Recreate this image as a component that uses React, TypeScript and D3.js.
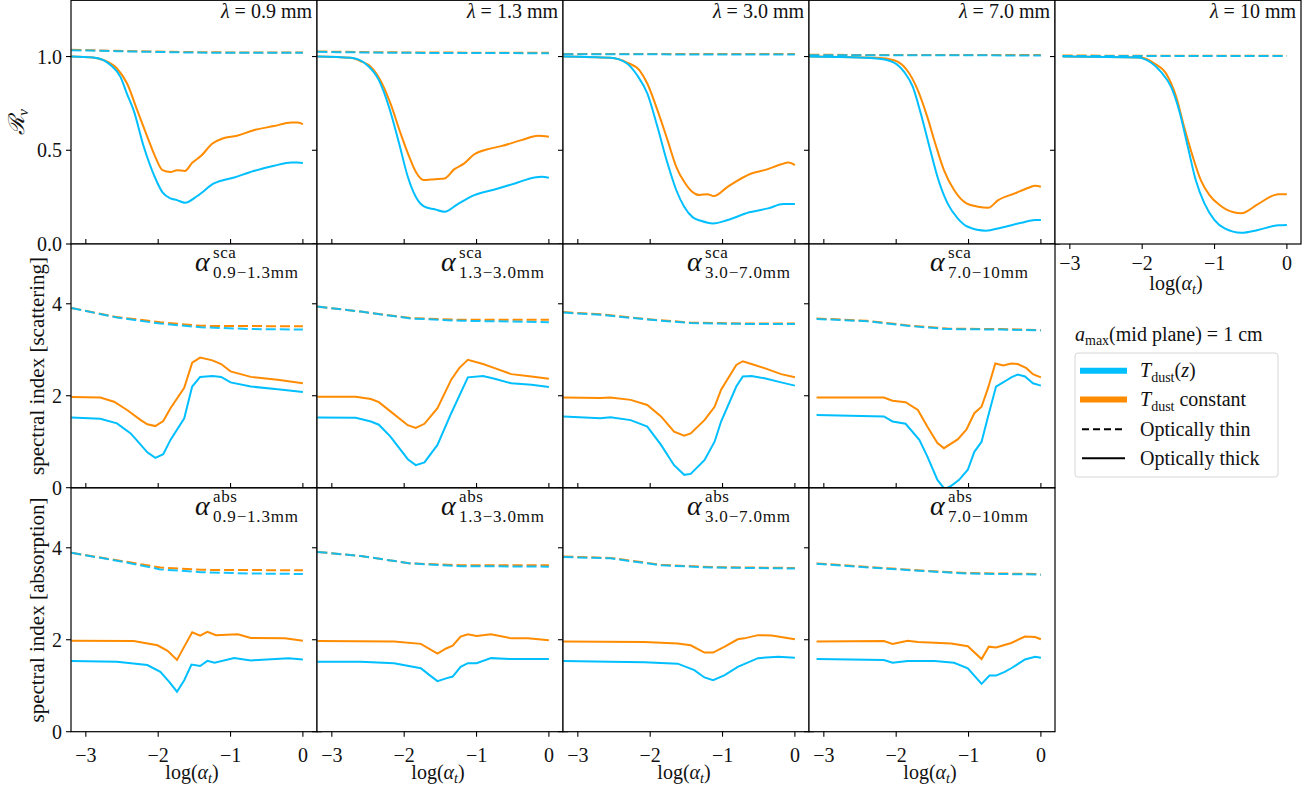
import React from 'react';
import * as d3 from 'd3';

type Pt = [number, number];

// ---------- tick labels / categories ----------
const X_TICKS = [-3, -2, -1, 0];
const X_TICK_LABELS = ['\u22123', '\u22122', '\u22121', '0'];
const R_TICKS = [0, 0.5, 1.0];
const R_TICK_LABELS = ['0.0', '0.5', '1.0'];
const IDX_TICKS = [0, 2, 4];
const IDX_TICK_LABELS = ['0', '2', '4'];
const WAVELENGTHS = ['0.9', '1.3', '3.0', '7.0', '10'];
const BANDS = ['0.9\u22121.3mm', '1.3\u22123.0mm', '3.0\u22127.0mm', '7.0\u221210mm'];
const LEGEND_LABELS = ['Tdust(z)', 'Tdust constant', 'Optically thin', 'Optically thick'];

// ---------- Row 0 : R_nu ----------
const R09_TZ: Pt[] = [[-3.2,1.0],[-2.9,0.995],[-2.75,0.98],[-2.66,0.955],[-2.52,0.89],[-2.43,0.8],[-2.34,0.714],[-2.2,0.52],[-2.05,0.36],[-1.94,0.275],[-1.83,0.243],[-1.74,0.234],[-1.63,0.22],[-1.46,0.256],[-1.23,0.323],[-0.95,0.355],[-0.68,0.389],[-0.4,0.417],[-0.16,0.435],[-0.07,0.435],[0,0.432]];
const R09_TC: Pt[] = [[-3.2,1.0],[-2.9,0.995],[-2.75,0.98],[-2.57,0.936],[-2.43,0.856],[-2.29,0.714],[-2.15,0.572],[-2.04,0.465],[-1.94,0.394],[-1.83,0.384],[-1.74,0.394],[-1.63,0.39],[-1.53,0.433],[-1.41,0.469],[-1.25,0.536],[-1.11,0.563],[-0.91,0.577],[-0.68,0.607],[-0.4,0.629],[-0.16,0.648],[-0.07,0.648],[0,0.639]];
const R09_TZ_THIN: Pt[] = [[-3.2,1.034],[-2.5,1.028],[-1.8,1.023],[-1.0,1.02],[0,1.02]];
const R09_TC_THIN: Pt[] = [[-3.2,1.036],[-2.5,1.03],[-1.8,1.025],[-1.0,1.022],[0,1.021]];

const R13_TZ: Pt[] = [[-3.2,1.0],[-2.74,0.993],[-2.51,0.954],[-2.35,0.874],[-2.21,0.731],[-2.07,0.536],[-1.95,0.359],[-1.84,0.252],[-1.72,0.199],[-1.58,0.185],[-1.44,0.172],[-1.26,0.213],[-1.03,0.261],[-0.75,0.291],[-0.47,0.323],[-0.2,0.355],[-0.1,0.359],[0,0.353]];
const R13_TC: Pt[] = [[-3.2,1.0],[-2.74,0.993],[-2.6,0.975],[-2.46,0.945],[-2.33,0.874],[-2.19,0.75],[-2.05,0.59],[-1.93,0.465],[-1.84,0.385],[-1.73,0.341],[-1.58,0.346],[-1.44,0.35],[-1.31,0.398],[-1.17,0.43],[-1.03,0.479],[-0.84,0.506],[-0.66,0.522],[-0.38,0.554],[-0.15,0.577],[0,0.572]];
const R13_TZ_THIN: Pt[] = [[-3.2,1.025],[-2.0,1.02],[0,1.018]];
const R13_TC_THIN: Pt[] = [[-3.2,1.027],[-2.0,1.022],[0,1.02]];

const R30_TZ: Pt[] = [[-3.2,1.0],[-2.55,0.993],[-2.32,0.963],[-2.18,0.9],[-2.04,0.803],[-1.9,0.625],[-1.76,0.43],[-1.64,0.288],[-1.53,0.199],[-1.41,0.142],[-1.3,0.124],[-1.13,0.11],[-0.93,0.128],[-0.63,0.169],[-0.37,0.19],[-0.16,0.213],[0,0.213]];
const R30_TC: Pt[] = [[-3.2,1.0],[-2.55,0.993],[-2.32,0.968],[-2.15,0.927],[-2.04,0.856],[-1.9,0.714],[-1.76,0.554],[-1.64,0.412],[-1.53,0.332],[-1.42,0.279],[-1.32,0.261],[-1.21,0.266],[-1.12,0.256],[-0.93,0.305],[-0.6,0.376],[-0.42,0.394],[-0.19,0.425],[-0.09,0.435],[0,0.421]];
const R30_TZ_THIN: Pt[] = [[-3.2,1.012],[0,1.011]];
const R30_TC_THIN: Pt[] = [[-3.2,1.014],[0,1.013]];

const R70_TZ: Pt[] = [[-3.2,1.0],[-2.27,0.99],[-2.03,0.968],[-1.89,0.918],[-1.77,0.838],[-1.66,0.696],[-1.54,0.518],[-1.43,0.359],[-1.29,0.217],[-1.15,0.137],[-1.01,0.092],[-0.76,0.071],[-0.55,0.087],[-0.27,0.113],[-0.08,0.128],[0,0.128]];
const R70_TC: Pt[] = [[-3.2,1.0],[-2.27,0.993],[-2.03,0.98],[-1.85,0.927],[-1.71,0.829],[-1.57,0.678],[-1.46,0.536],[-1.34,0.394],[-1.2,0.288],[-1.03,0.217],[-0.87,0.199],[-0.73,0.193],[-0.59,0.234],[-0.36,0.27],[-0.17,0.3],[-0.08,0.311],[0,0.305]];
const R70_TZ_THIN: Pt[] = [[-3.2,1.007],[0,1.006]];
const R70_TC_THIN: Pt[] = [[-3.2,1.009],[0,1.008]];

const R10_TZ: Pt[] = [[-3.1,1.0],[-2.07,0.995],[-1.88,0.968],[-1.74,0.918],[-1.6,0.838],[-1.49,0.714],[-1.37,0.52],[-1.26,0.341],[-1.14,0.217],[-1.0,0.128],[-0.86,0.083],[-0.63,0.06],[-0.4,0.075],[-0.12,0.1],[0,0.102]];
const R10_TC: Pt[] = [[-3.1,1.0],[-2.02,0.995],[-1.83,0.963],[-1.67,0.91],[-1.53,0.785],[-1.42,0.625],[-1.3,0.465],[-1.19,0.341],[-1.07,0.261],[-0.93,0.208],[-0.84,0.185],[-0.63,0.164],[-0.4,0.213],[-0.12,0.266],[0,0.266]];
const R10_TZ_THIN: Pt[] = [[-3.1,1.003],[0,1.003]];
const R10_TC_THIN: Pt[] = [[-3.1,1.005],[0,1.004]];

// ---------- Row 1 : scattering spectral index ----------
const S0913_TZ: Pt[] = [[-3.2,1.525],[-2.8,1.5],[-2.57,1.4],[-2.38,1.18],[-2.24,0.93],[-2.15,0.77],[-2.04,0.65],[-1.93,0.73],[-1.83,1.04],[-1.64,1.51],[-1.53,2.2],[-1.42,2.41],[-1.25,2.43],[-1.13,2.41],[-1.0,2.29],[-0.72,2.2],[-0.35,2.14],[0,2.08]];
const S0913_TC: Pt[] = [[-3.2,1.97],[-2.8,1.96],[-2.61,1.87],[-2.43,1.69],[-2.24,1.47],[-2.15,1.38],[-2.04,1.34],[-1.93,1.45],[-1.83,1.73],[-1.64,2.17],[-1.53,2.72],[-1.42,2.83],[-1.25,2.77],[-1.13,2.69],[-1.0,2.53],[-0.72,2.41],[-0.35,2.35],[0,2.27]];
const S0913_TZ_THIN: Pt[] = [[-3.2,3.91],[-2.57,3.7],[-1.97,3.57],[-1.41,3.49],[-0.7,3.45],[0,3.44]];
const S0913_TC_THIN: Pt[] = [[-3.2,3.91],[-2.57,3.71],[-1.97,3.6],[-1.41,3.52],[0,3.51]];

const S1330_TZ: Pt[] = [[-3.2,1.525],[-2.67,1.52],[-2.46,1.44],[-2.35,1.37],[-2.19,1.11],[-1.95,0.62],[-1.84,0.49],[-1.72,0.55],[-1.54,0.93],[-1.35,1.62],[-1.12,2.4],[-0.91,2.43],[-0.75,2.37],[-0.52,2.27],[-0.24,2.24],[0,2.19]];
const S1330_TC: Pt[] = [[-3.2,1.98],[-2.67,1.98],[-2.46,1.93],[-2.35,1.86],[-2.19,1.66],[-1.95,1.36],[-1.84,1.3],[-1.72,1.39],[-1.54,1.73],[-1.35,2.35],[-1.24,2.6],[-1.12,2.78],[-0.91,2.69],[-0.75,2.6],[-0.52,2.47],[-0.24,2.42],[0,2.37]];
const S1330_TZ_THIN: Pt[] = [[-3.2,3.94],[-2.6,3.83],[-1.91,3.68],[-1.21,3.63],[0,3.6]];
const S1330_TC_THIN: Pt[] = [[-3.2,3.94],[-2.6,3.83],[-1.91,3.69],[-1.21,3.65],[0,3.65]];

const S3070_TZ: Pt[] = [[-3.2,1.55],[-2.69,1.51],[-2.55,1.53],[-2.27,1.47],[-2.04,1.33],[-1.85,0.93],[-1.67,0.49],[-1.53,0.28],[-1.44,0.3],[-1.25,0.6],[-1.11,1.0],[-1.02,1.44],[-0.81,2.2],[-0.72,2.42],[-0.6,2.43],[-0.42,2.38],[-0.19,2.29],[0,2.22]];
const S3070_TC: Pt[] = [[-3.2,1.96],[-2.69,1.95],[-2.55,1.96],[-2.27,1.91],[-2.04,1.8],[-1.85,1.55],[-1.67,1.22],[-1.53,1.13],[-1.44,1.18],[-1.25,1.47],[-1.11,1.76],[-1.02,2.13],[-0.81,2.67],[-0.72,2.75],[-0.6,2.69],[-0.42,2.6],[-0.19,2.47],[0,2.4]];
const S3070_TZ_THIN: Pt[] = [[-3.2,3.81],[-2.69,3.76],[-1.99,3.65],[-1.44,3.58],[-0.6,3.56],[0,3.56]];
const S3070_TC_THIN: Pt[] = [[-3.2,3.82],[-2.69,3.77],[-1.99,3.66],[-1.44,3.59],[-0.6,3.57],[0,3.57]];

const S7010_TZ: Pt[] = [[-3.1,1.58],[-2.17,1.55],[-2.05,1.44],[-1.87,1.39],[-1.68,1.04],[-1.57,0.68],[-1.43,0.17],[-1.33,-0.03],[-1.24,0.04],[-1.13,0.17],[-1.01,0.39],[-0.92,0.78],[-0.82,1.0],[-0.73,1.55],[-0.62,2.2],[-0.5,2.31],[-0.41,2.4],[-0.32,2.46],[-0.22,2.42],[-0.11,2.27],[0,2.22]];
const S7010_TC: Pt[] = [[-3.1,1.96],[-2.17,1.96],[-2.05,1.89],[-1.87,1.86],[-1.7,1.69],[-1.57,1.33],[-1.43,0.97],[-1.34,0.86],[-1.15,1.05],[-1.03,1.26],[-0.92,1.62],[-0.82,1.76],[-0.73,2.17],[-0.63,2.7],[-0.52,2.66],[-0.41,2.7],[-0.32,2.69],[-0.2,2.6],[-0.11,2.47],[0,2.4]];
const S7010_TZ_THIN: Pt[] = [[-3.1,3.67],[-2.4,3.62],[-1.84,3.52],[-1.29,3.45],[-0.55,3.44],[0,3.42]];
const S7010_TC_THIN: Pt[] = [[-3.1,3.68],[-2.4,3.63],[-1.84,3.53],[-1.29,3.46],[-0.55,3.45],[0,3.43]];

// ---------- Row 2 : absorption spectral index ----------
const A0913_TZ: Pt[] = [[-3.2,1.54],[-2.57,1.52],[-2.15,1.45],[-1.97,1.3],[-1.85,1.09],[-1.74,0.87],[-1.64,1.12],[-1.54,1.46],[-1.42,1.43],[-1.32,1.54],[-1.22,1.5],[-0.95,1.6],[-0.72,1.55],[-0.2,1.6],[0,1.57]];
const A0913_TC: Pt[] = [[-3.2,1.98],[-2.34,1.97],[-2.01,1.88],[-1.87,1.76],[-1.74,1.56],[-1.64,1.85],[-1.53,2.16],[-1.42,2.09],[-1.32,2.17],[-1.2,2.1],[-0.9,2.12],[-0.72,2.04],[-0.25,2.03],[0,1.98]];
const A0913_TZ_THIN: Pt[] = [[-3.2,3.89],[-2.57,3.72],[-1.97,3.53],[-1.41,3.47],[-0.7,3.44],[0,3.43]];
const A0913_TC_THIN: Pt[] = [[-3.2,3.89],[-2.57,3.73],[-1.97,3.57],[-1.41,3.52],[0,3.51]];

const A1330_TZ: Pt[] = [[-3.2,1.52],[-2.6,1.52],[-2.14,1.49],[-1.77,1.38],[-1.65,1.23],[-1.54,1.1],[-1.42,1.16],[-1.33,1.2],[-1.22,1.41],[-1.12,1.49],[-1.0,1.49],[-0.8,1.6],[-0.52,1.58],[-0.29,1.58],[0,1.58]];
const A1330_TC: Pt[] = [[-3.2,1.97],[-2.14,1.96],[-1.77,1.91],[-1.54,1.7],[-1.42,1.81],[-1.33,1.87],[-1.22,2.07],[-1.12,2.12],[-1.0,2.08],[-0.8,2.12],[-0.52,2.03],[-0.29,2.03],[0,1.99]];
const A1330_TZ_THIN: Pt[] = [[-3.2,3.91],[-2.6,3.82],[-1.91,3.66],[-1.21,3.6],[0,3.59]];
const A1330_TC_THIN: Pt[] = [[-3.2,3.91],[-2.6,3.82],[-1.91,3.66],[-1.21,3.62],[0,3.62]];

const A3070_TZ: Pt[] = [[-3.2,1.54],[-2.55,1.52],[-2.08,1.51],[-1.62,1.48],[-1.39,1.34],[-1.25,1.18],[-1.13,1.12],[-0.97,1.23],[-0.79,1.41],[-0.51,1.6],[-0.23,1.63],[0,1.61]];
const A3070_TC: Pt[] = [[-3.2,1.96],[-2.08,1.95],[-1.62,1.92],[-1.44,1.88],[-1.25,1.72],[-1.13,1.72],[-0.97,1.85],[-0.79,2.01],[-0.7,2.03],[-0.51,2.1],[-0.32,2.09],[0,2.01]];
const A3070_TZ_THIN: Pt[] = [[-3.2,3.8],[-2.55,3.77],[-1.85,3.62],[-1.16,3.57],[0,3.55]];
const A3070_TC_THIN: Pt[] = [[-3.2,3.81],[-2.55,3.78],[-1.85,3.63],[-1.16,3.58],[0,3.56]];

const A7010_TZ: Pt[] = [[-3.1,1.58],[-2.17,1.56],[-2.05,1.5],[-1.84,1.54],[-1.47,1.54],[-1.2,1.5],[-1.01,1.38],[-0.82,1.04],[-0.71,1.22],[-0.62,1.22],[-0.5,1.3],[-0.41,1.38],[-0.22,1.57],[-0.08,1.63],[0,1.61]];
const A7010_TC: Pt[] = [[-3.1,1.96],[-2.17,1.97],[-2.05,1.91],[-1.84,1.98],[-1.7,1.95],[-1.24,1.92],[-1.01,1.86],[-0.82,1.58],[-0.72,1.85],[-0.62,1.83],[-0.41,1.93],[-0.22,2.07],[-0.08,2.06],[0,2.01]];
const A7010_TZ_THIN: Pt[] = [[-3.1,3.65],[-2.17,3.55],[-1.7,3.5],[-1.01,3.44],[-0.08,3.42],[0,3.41]];
const A7010_TC_THIN: Pt[] = [[-3.1,3.66],[-2.17,3.56],[-1.7,3.51],[-1.01,3.45],[-0.08,3.43],[0,3.42]];

// ---------- layout ----------
const W = 1313;
const H = 791;
const LEFT = 71;
const PW = 246;
const ROW_TOP = [0.3, 244, 488];
const PH = 243.7;
const X_DOMAIN: [number, number] = [-3.205, 0.195];
const BLUE = '#00bfff';
const ORANGE = '#ff8c00';
const FONT = "'Liberation Serif', 'DejaVu Serif', serif";

interface Panel {
  row: number; col: number;
  tz: Pt[]; tc: Pt[]; tzThin: Pt[]; tcThin: Pt[];
}

const PANELS: Panel[] = [
  { row: 0, col: 0, tz: R09_TZ, tc: R09_TC, tzThin: R09_TZ_THIN, tcThin: R09_TC_THIN },
  { row: 0, col: 1, tz: R13_TZ, tc: R13_TC, tzThin: R13_TZ_THIN, tcThin: R13_TC_THIN },
  { row: 0, col: 2, tz: R30_TZ, tc: R30_TC, tzThin: R30_TZ_THIN, tcThin: R30_TC_THIN },
  { row: 0, col: 3, tz: R70_TZ, tc: R70_TC, tzThin: R70_TZ_THIN, tcThin: R70_TC_THIN },
  { row: 0, col: 4, tz: R10_TZ, tc: R10_TC, tzThin: R10_TZ_THIN, tcThin: R10_TC_THIN },
  { row: 1, col: 0, tz: S0913_TZ, tc: S0913_TC, tzThin: S0913_TZ_THIN, tcThin: S0913_TC_THIN },
  { row: 1, col: 1, tz: S1330_TZ, tc: S1330_TC, tzThin: S1330_TZ_THIN, tcThin: S1330_TC_THIN },
  { row: 1, col: 2, tz: S3070_TZ, tc: S3070_TC, tzThin: S3070_TZ_THIN, tcThin: S3070_TC_THIN },
  { row: 1, col: 3, tz: S7010_TZ, tc: S7010_TC, tzThin: S7010_TZ_THIN, tcThin: S7010_TC_THIN },
  { row: 2, col: 0, tz: A0913_TZ, tc: A0913_TC, tzThin: A0913_TZ_THIN, tcThin: A0913_TC_THIN },
  { row: 2, col: 1, tz: A1330_TZ, tc: A1330_TC, tzThin: A1330_TZ_THIN, tcThin: A1330_TC_THIN },
  { row: 2, col: 2, tz: A3070_TZ, tc: A3070_TC, tzThin: A3070_TZ_THIN, tcThin: A3070_TC_THIN },
  { row: 2, col: 3, tz: A7010_TZ, tc: A7010_TC, tzThin: A7010_TZ_THIN, tcThin: A7010_TC_THIN },
];

function xScale(col: number) {
  const l = LEFT + col * PW;
  return d3.scaleLinear().domain(X_DOMAIN).range([l, l + PW]);
}
function yScale(row: number) {
  const top = ROW_TOP[row];
  const dom: [number, number] = row === 0 ? [0, 1.3] : [0, 5.3];
  return d3.scaleLinear().domain(dom).range([top + PH, top]);
}

function PanelView({ p }: { p: Panel }) {
  const xs = xScale(p.col);
  const ys = yScale(p.row);
  const left = LEFT + p.col * PW;
  const right = left + PW;
  const top = ROW_TOP[p.row];
  const bottom = top + PH;
  const line = d3.line<Pt>().x(d => xs(d[0])).y(d => ys(d[1]))
    .curve(p.row === 0 ? d3.curveMonotoneX : d3.curveLinear);
  const clipId = `clip-${p.row}-${p.col}`;
  const yt = p.row === 0 ? R_TICKS : IDX_TICKS;
  const ytl = p.row === 0 ? R_TICK_LABELS : IDX_TICK_LABELS;
  const hasRightNeighbour = p.row === 0 ? p.col < 4 : p.col < 3;
  const bottomTicksDown = p.row === 2 || (p.row === 0 && p.col === 4);
  const topTicksUp = p.row > 0;
  const showXLabels = bottomTicksDown;
  const TL = 5;
  const alphaEnd = right - (p.col === 3 ? 108 : 105);
  return (
    <g>
      <defs>
        <clipPath id={clipId}>
          <rect x={left} y={top} width={PW} height={PH} />
        </clipPath>
      </defs>
      <rect x={left} y={top} width={PW} height={PH} fill="#fff" />
      <g clipPath={`url(#${clipId})`} fill="none">
        <path d={line(p.tc) || ''} stroke={ORANGE} strokeWidth={2} />
        <path d={line(p.tcThin) || ''} stroke={ORANGE} strokeWidth={2} strokeDasharray="10 4" />
        <path d={line(p.tz) || ''} stroke={BLUE} strokeWidth={2} />
        <path d={line(p.tzThin) || ''} stroke={BLUE} strokeWidth={2} strokeDasharray="10 4" opacity={0.92} />
      </g>
      <rect x={left} y={top} width={PW} height={PH} fill="none" stroke="#000" strokeWidth={1.2} />
      {yt.map((v, i) => (
        <g key={`yt${i}`}>
          <line x1={left - TL} x2={left} y1={ys(v)} y2={ys(v)} stroke="#000" strokeWidth={1.1} />
          {hasRightNeighbour && (
            <line x1={right} x2={right + TL} y1={ys(v)} y2={ys(v)} stroke="#000" strokeWidth={1.1} />
          )}
          {p.col === 0 && (
            <text x={left - 9} y={ys(v) + 7} textAnchor="end" fontSize={20} fill="#111">{ytl[i]}</text>
          )}
        </g>
      ))}
      {X_TICKS.map((v, i) => (
        <g key={`xt${i}`}>
          {topTicksUp && (
            <line x1={xs(v)} x2={xs(v)} y1={top - TL} y2={top} stroke="#000" strokeWidth={1.1} />
          )}
          {bottomTicksDown && (
            <line x1={xs(v)} x2={xs(v)} y1={bottom} y2={bottom + TL} stroke="#000" strokeWidth={1.1} />
          )}
          {showXLabels && (
            <text x={xs(v)} y={bottom + (p.row === 2 ? 30 : 26)} textAnchor="middle" fontSize={20} fill="#111">{X_TICK_LABELS[i]}</text>
          )}
        </g>
      ))}
      {showXLabels && (
        <text x={left + PW / 2 - 2} y={bottom + (p.row === 2 ? 47 : 46)} textAnchor="middle" fontSize={20} fill="#111">
          log(<tspan fontStyle="italic">α</tspan><tspan fontStyle="italic" fontSize={14} dy={4}>t</tspan><tspan dy={-4}>)</tspan>
        </text>
      )}
      {p.row === 0 && (
        <text x={right - 5} y={top + 18} textAnchor="end" fontSize={20} fill="#111">
          <tspan fontStyle="italic">λ</tspan> = {WAVELENGTHS[p.col]} mm
        </text>
      )}
      {p.row > 0 && (
        <text x={alphaEnd - 17} y={top + 27} fontSize={28} fill="#111">
          <tspan fontStyle="italic">α</tspan>
          <tspan x={alphaEnd + 1} y={top + 14} fontSize={17} letterSpacing={0.6}>{p.row === 1 ? 'sca' : 'abs'}</tspan>
          <tspan x={alphaEnd + 1} y={top + 34} fontSize={17} letterSpacing={0.8}>{BANDS[p.col]}</tspan>
        </text>
      )}
    </g>
  );
}

function Legend() {
  const x0 = 1075, y0 = 353;
  const rows = [370.7, 399.6, 429.3, 458.3];
  return (
    <g>
      <text x={x0} y={341} fontSize={20} fill="#111">
        <tspan fontStyle="italic">a</tspan><tspan fontSize={14} dy={4}>max</tspan><tspan dy={-4}>(mid plane) = 1 cm</tspan>
      </text>
      <rect x={x0} y={y0} width={203} height={124} rx={3} fill="#fff" fillOpacity={0.8} stroke="#d6d6d6" strokeWidth={1} />
      <line x1={1080} x2={1127} y1={rows[0]} y2={rows[0]} stroke={BLUE} strokeWidth={6} />
      <line x1={1080} x2={1127} y1={rows[1]} y2={rows[1]} stroke={ORANGE} strokeWidth={6} />
      <line x1={1082} x2={1125} y1={rows[2]} y2={rows[2]} stroke="#000" strokeWidth={2} strokeDasharray="7 4" />
      <line x1={1082} x2={1125} y1={rows[3]} y2={rows[3]} stroke="#000" strokeWidth={2} />
      <text x={1140} y={rows[0] + 6} fontSize={20} fill="#111">
        <tspan fontStyle="italic">T</tspan><tspan fontSize={14} dy={5}>dust</tspan><tspan dy={-5}>(</tspan><tspan fontStyle="italic">z</tspan>)
      </text>
      <text x={1140} y={rows[1] + 6} fontSize={20} fill="#111">
        <tspan fontStyle="italic">T</tspan><tspan fontSize={14} dy={5}>dust</tspan><tspan dy={-5}> constant</tspan>
      </text>
      <text x={1140} y={rows[2] + 7} fontSize={20} fill="#111">{LEGEND_LABELS[2]}</text>
      <text x={1140} y={rows[3] + 7} fontSize={20} fill="#111">{LEGEND_LABELS[3]}</text>
    </g>
  );
}

export default function App() {
  return (
    <svg width={W} height={H} viewBox={`0 0 ${W} ${H}`}
      style={{ position: 'absolute', left: 0, top: 0, background: '#fff', fontFamily: FONT }}>
      <style>{`text, tspan { font-family: ${FONT}; }`}</style>
      <rect x={0} y={0} width={W} height={H} fill="#fff" />
      {PANELS.map(p => <PanelView key={`${p.row}-${p.col}`} p={p} />)}
      <text transform="translate(24,122) rotate(-90)" textAnchor="middle" fontSize={22} fill="#111">
        <tspan fontStyle="italic">ℛ</tspan><tspan fontStyle="italic" fontSize={15} dy={4}>ν</tspan>
      </text>
      <text transform="translate(44,366) rotate(-90)" textAnchor="middle" fontSize={21} fill="#111">spectral index [scattering]</text>
      <text transform="translate(44,610) rotate(-90)" textAnchor="middle" fontSize={21} fill="#111">spectral index [absorption]</text>
      <Legend />
    </svg>
  );
}
